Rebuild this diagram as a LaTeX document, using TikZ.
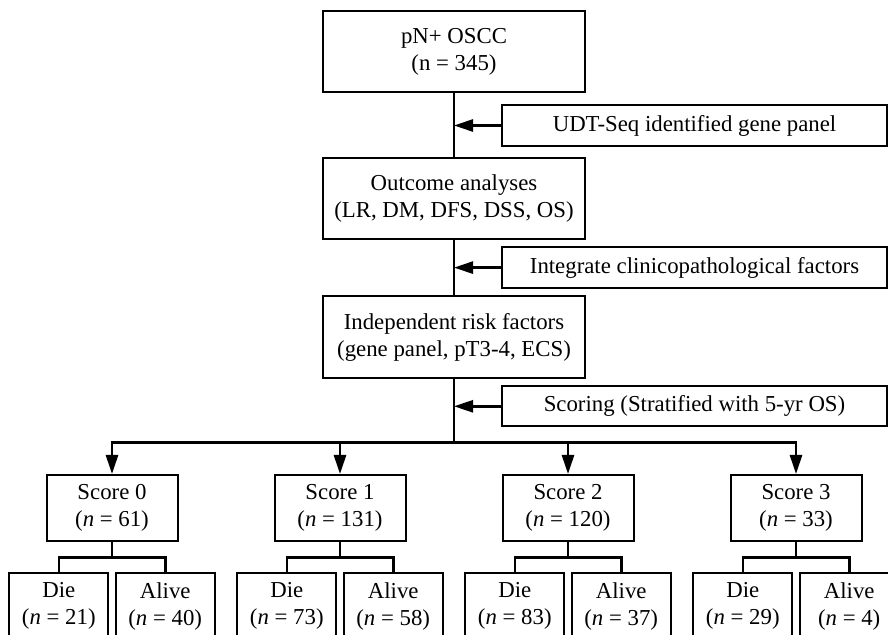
\documentclass[tikz,border=0pt]{standalone}
\usepackage{fontspec}
\setmainfont{Liberation Serif}
\usetikzlibrary{positioning,calc,arrows.meta}
\tikzset{
  wire/.style  = {line width=1.3pt, line cap=rect},
  awire/.style = {line width=1.3pt, -{Triangle[length=9.5pt,width=6pt]}},
  bx/.style    = {draw, line width=1pt, fill=white, align=center, inner sep=0pt,
                  font=\fontsize{11.4}{13.5}\selectfont},
  mbox/.style  = {bx, minimum width=131pt, minimum height=40.8pt},
  sbox/.style  = {bx, minimum width=192.5pt, minimum height=20.2pt},
  cbox/.style  = {bx, minimum width=65.5pt, minimum height=33pt},
  lbox/.style  = {bx, minimum width=49.5pt, minimum height=33pt},
}
\begin{document}
\begin{tikzpicture}[x=0.5pt,y=-0.5pt]
  \useasboundingbox (0,0) rectangle (888,635);
  \clip (0,0) rectangle (888,635);
  % main column
  \node[mbox] (pn) at (454,51.5) {pN+ OSCC\\(n = 345)};
  \node[mbox] (outcome) at (454,198.4) {Outcome analyses\\(LR, DM, DFS, DSS, OS)};
  \node[mbox] (indep) at (454,337.1) {Independent risk factors\\(gene panel, pT3-4, ECS)};
  \node[sbox] (udt) at (694.5,125.5) {UDT-Seq identified gene panel};
  \node[sbox] (integ) at (694.5,267.6) {Integrate clinicopathological factors};
  \node[sbox] (scoring) at (694.5,406.3) {Scoring (Stratified with 5-yr OS)};
  \draw[wire] (pn.south) -- (outcome.north);
  \draw[wire] (outcome.south) -- (indep.north);
  \coordinate (bus) at (454,442.5);
  \draw[wire] (indep.south) -- (bus);
  \draw[awire] (udt.west) -- (udt.west -| pn.south);
  \draw[awire] (integ.west) -- (integ.west -| pn.south);
  \draw[awire] (scoring.west) -- (scoring.west -| pn.south);
  % score groups
  \foreach \i/\nn/\nd/\na in {0/61/21/40, 1/131/73/58, 2/120/83/37, 3/33/29/4}{
    \node[cbox] (s\i) at (112+228*\i,508) {Score \i\\(\textit{n} = \nn)};
    \node[lbox] (die\i) at (58.8+228*\i,606.3) {Die\\(\textit{n} = \nd)};
    \node[lbox] (alive\i) at (165.2+228*\i,606.3) {Alive\\(\textit{n} = \na)};
    \draw[awire] (bus -| s\i.north) -- (s\i.north);
    \draw[wire] (s\i.south) -- ++(0,15.7) coordinate (b\i);
    \draw[wire] (die\i.north) |- (b\i) -| (alive\i.north);
  }
  \draw[wire] (bus -| s0.north) -- (bus -| s3.north);
\end{tikzpicture}
\end{document}
